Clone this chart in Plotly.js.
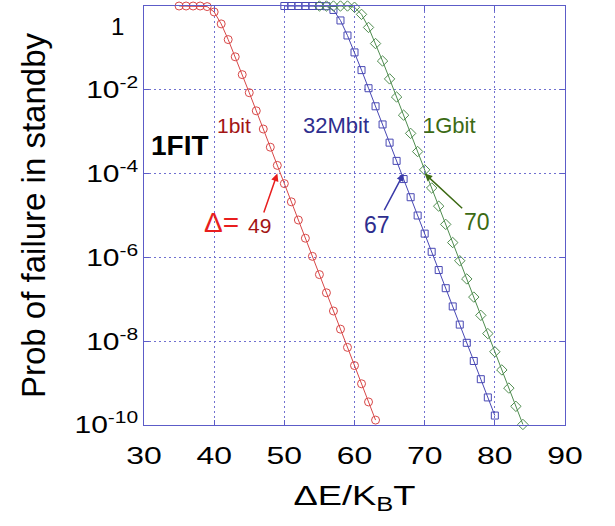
<!DOCTYPE html>
<html>
<head>
<meta charset="utf-8">
<script src="https://cdn.plot.ly/plotly-3.0.1.min.js"></script>
<style>
  html, body { margin: 0; padding: 0; background: #ffffff; }
  #chart { width: 615px; height: 526px; }
</style>
</head>
<body>
<div id="chart"></div>
<script>
// Standby failure probability versus thermal stability factor ΔE/kBT
const dE_1bit = [35, 36, 37, 38, 39, 40, 41, 42, 43, 44, 45, 46, 47, 48, 49, 50, 51, 52, 53, 54, 55, 56, 57, 58, 59, 60, 61, 62, 63];
const p_1bit = [1, 1, 1, 0.99992, 0.968, 0.72, 0.374, 0.158, 0.0613, 0.0230, 0.00853, 0.00315, 0.00116, 4.27e-4, 1.57e-4, 5.77e-5, 2.12e-5, 7.81e-6, 2.87e-6, 1.06e-6, 3.89e-7, 1.43e-7, 5.26e-8, 1.94e-8, 7.13e-9, 2.62e-9, 9.64e-10, 3.55e-10, 1.31e-10];

const dE_32Mbit = [50, 51, 52, 53, 54, 55, 56, 57, 58, 59, 60, 61, 62, 63, 64, 65, 66, 67, 68, 69, 70, 71, 72, 73, 74, 75, 76, 77, 78, 79, 80];
const p_32Mbit = [1, 1, 1, 1, 1, 0.99999, 0.988, 0.805, 0.452, 0.198, 0.0781, 0.0295, 0.0109, 0.00404, 0.00149, 5.48e-4, 2.01e-4, 7.41e-5, 2.73e-5, 1.00e-5, 3.69e-6, 1.36e-6, 4.99e-7, 1.84e-7, 6.76e-8, 2.49e-8, 9.15e-9, 3.37e-9, 1.24e-9, 4.55e-10, 1.68e-10];

const dE_1Gbit = [55, 56, 57, 58, 59, 60, 61, 62, 63, 64, 65, 66, 67, 68, 69, 70, 71, 72, 73, 74, 75, 76, 77, 78, 79, 80, 81, 82, 83, 84];
const p_1Gbit = [1, 1, 1, 1, 0.9994, 0.934, 0.632, 0.308, 0.127, 0.0486, 0.0182, 0.00672, 0.00248, 9.12e-4, 3.36e-4, 1.23e-4, 4.54e-5, 1.67e-5, 6.14e-6, 2.26e-6, 8.32e-7, 3.06e-7, 1.13e-7, 4.14e-8, 1.52e-8, 5.60e-9, 2.06e-9, 7.58e-10, 2.79e-10, 1.03e-10];

// 1 FIT failure level and the ΔE/kBT needed to reach it
const fitLevel = 1e-4;
const requiredDelta = [49, 67, 70];
const requiredLabels = ['49', '67', '70'];

// Axis ticks
const xTicks = [30, 40, 50, 60, 70, 80, 90];
const yTickVals = [1e-2, 1e-4, 1e-6, 1e-8, 1e-10];
const yTickText = ['10<sup>-2</sup>', '10<sup>-4</sup>', '10<sup>-6</sup>', '10<sup>-8</sup>', '10<sup>-10</sup>'];

const FONT = 'Liberation Sans, Arial, Helvetica, sans-serif';
const AXIS_BLUE = '#5c5cc8';
const GRID_BLUE = '#7070d0';

const RED = '#d84848', DARK_RED = '#a31515', BRIGHT_RED = '#e81e1e';
const BLUE = '#4848b4', NAVY = '#2e2e8e';
const GREEN = '#4f8c4f', OLIVE = '#3c6a14';

function curve(x, y, color, symbol, size) {
  return {
    x: x, y: y, type: 'scatter', mode: 'lines+markers',
    line: {color: color, width: 1},
    marker: {symbol: symbol, size: size, color: color, line: {color: color, width: 1}},
    cliponaxis: false, hoverinfo: 'x+y', showlegend: false
  };
}

const traces = [
  curve(dE_1bit, p_1bit, RED, 'circle-open', 8),
  curve(dE_32Mbit, p_32Mbit, BLUE, 'square-open', 7),
  curve(dE_1Gbit, p_1Gbit, GREEN, 'diamond-open', 8)
];

const fitLog = Math.log10(fitLevel);
// each value label sits below the threshold line, with an arrow up to its crossing
const arrowColors = [BRIGHT_RED, '#3a3aa8', OLIVE];
const labelOffsets = [[-18, 52], [-27, 51], [52, 48]];
const labelColors = [DARK_RED, NAVY, OLIVE];
const labelSizes = [21, 23, 23];

const annotations = requiredDelta.map(function (d, i) {
  return {
    x: d, y: fitLog, xref: 'x', yref: 'y', text: requiredLabels[i], showarrow: true,
    ax: labelOffsets[i][0], ay: labelOffsets[i][1], axref: 'pixel', ayref: 'pixel',
    arrowcolor: arrowColors[i], arrowwidth: 1.5, arrowhead: 2, arrowsize: 1,
    standoff: 0, startstandoff: 0,
    font: {family: FONT, size: labelSizes[i], color: labelColors[i]}
  };
});
// curve names, threshold label, Δ= prefix
annotations.push(
  {x: 42.8, y: -2.86, xref: 'x', yref: 'y', text: '1bit', showarrow: false,
   font: {family: FONT, size: 21, color: DARK_RED}},
  {x: 57.35, y: -2.86, xref: 'x', yref: 'y', text: '32Mbit', showarrow: false,
   font: {family: FONT, size: 22, color: NAVY}},
  {x: 73.6, y: -2.86, xref: 'x', yref: 'y', text: '1Gbit', showarrow: false,
   font: {family: FONT, size: 22, color: OLIVE}},
  {x: 35.1, y: -3.32, xref: 'x', yref: 'y', text: '<b>1FIT</b>', showarrow: false,
   font: {family: FONT, size: 28, color: '#000000'}},
  {x: 41.1, y: -5.16, xref: 'x', yref: 'y', text: 'Δ=', showarrow: false,
   font: {family: FONT, size: 28, color: BRIGHT_RED}},
  // top tick label of the log axis
  {x: -0.062, y: 0.952, xref: 'paper', yref: 'paper', text: '1', showarrow: false,
   xanchor: 'center', yanchor: 'middle', font: {family: FONT, size: 24, color: '#000000'}}
);

const layout = {
  width: 615, height: 526,
  margin: {l: 144, r: 50, t: 6, b: 101, pad: 0},
  paper_bgcolor: '#ffffff', plot_bgcolor: '#ffffff',
  font: {family: FONT, color: '#000000'},
  showlegend: false,
  xaxis: {
    range: [30, 90], tickvals: xTicks, ticktext: xTicks.map(String),
    showline: true, linecolor: AXIS_BLUE, linewidth: 1, mirror: 'ticks',
    ticks: 'inside', ticklen: 5, tickcolor: AXIS_BLUE,
    showgrid: true, gridcolor: GRID_BLUE, griddash: '2px,3px', gridwidth: 1,
    zeroline: false, automargin: false,
    tickfont: {family: FONT, size: 24, color: '#000000'},
    ticklabelstandoff: 9,
    title: {text: 'ΔE/K<sub>B</sub>T', font: {family: FONT, size: 28, color: '#000000'}, standoff: 17}
  },
  yaxis: {
    type: 'log', range: [-10, 0],
    tickvals: yTickVals, ticktext: yTickText,
    showline: true, linecolor: AXIS_BLUE, linewidth: 1, mirror: 'ticks',
    ticks: 'inside', ticklen: 5, tickcolor: AXIS_BLUE,
    showgrid: true, gridcolor: GRID_BLUE, griddash: '2px,3px', gridwidth: 1,
    zeroline: false, automargin: false,
    tickfont: {family: FONT, size: 24, color: '#000000'},
    title: {text: 'Prob of failure in standby', font: {family: FONT, size: 33, color: '#000000'}, standoff: 31}
  },
  shapes: [{
    type: 'line', xref: 'paper', yref: 'y', x0: -0.014, x1: 0.983, y0: fitLog, y1: fitLog,
    line: {color: '#000000', width: 4, dash: '12px,8px'}, layer: 'above'
  }],
  annotations: annotations
};

// Widen the axis lettering horizontally (wide-set axis type), anchored so positions stay put
function widenText(selector, sx, anchor) {
  document.querySelectorAll(selector).forEach(function (t) {
    const bb = t.getBBox();
    const ax = anchor === 'end' ? bb.x + bb.width : bb.x + bb.width / 2;
    const old = t.getAttribute('transform') || '';
    t.setAttribute('transform', old + ' translate(' + ax + ',0) scale(' + sx + ',1) translate(' + (-ax) + ',0)');
  });
}

Plotly.newPlot('chart', traces, layout, {displayModeBar: false, staticPlot: true}).then(function () {
  widenText('#chart .xtick text', 1.33, 'middle');
  widenText('#chart .ytick text', 1.25, 'end');
  widenText('#chart .g-xtitle text', 1.3, 'middle');
});
</script>
</body>
</html>
